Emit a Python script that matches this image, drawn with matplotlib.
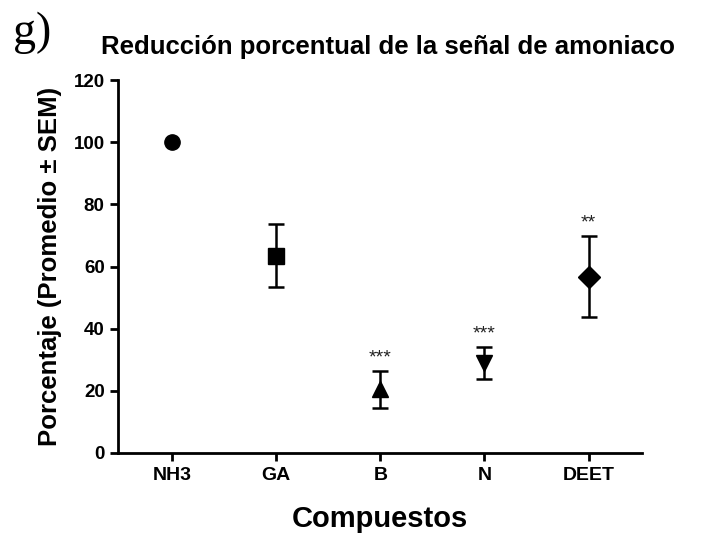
import matplotlib.pyplot as plt

plt.rcParams['font.family'] = ['Liberation Sans', 'DejaVu Sans']

# Data
compuestos = ['NH3', 'GA', 'B', 'N', 'DEET']
promedio = [100, 63.5, 20.5, 29.0, 56.8]
sem = [0, 10.2, 6.0, 5.2, 13.0]
marcadores = ['o', 's', '^', 'v', 'D']
significancia = ['', '', '***', '***', '**']

fig = plt.figure(figsize=(7.06, 5.38), dpi=100)
ax = fig.add_axes([0.167, 0.158, 0.742, 0.693])

for i, (m, e, mk) in enumerate(zip(promedio, sem, marcadores)):
    size = 11.5 if mk == 'D' else 11
    ax.errorbar(i, m, yerr=e if e > 0 else None, fmt=mk, color='black',
                markersize=size, capsize=6, elinewidth=1.8, capthick=1.8)
    if significancia[i]:
        ax.text(i, m + e + 1.5, significancia[i], ha='center', va='bottom',
                fontsize=14, color='#222222')

ax.set_xlim(-0.52, 4.51)
ax.set_ylim(0, 120)
ax.set_yticks(range(0, 121, 20))
ax.set_xticks(range(len(compuestos)))
ax.set_xticklabels(compuestos, fontweight='bold', fontsize=14)
for lbl in ax.get_yticklabels():
    lbl.set_fontweight('bold')
    lbl.set_fontsize(13.5)

for side in ['top', 'right']:
    ax.spines[side].set_visible(False)
for side in ['left', 'bottom']:
    ax.spines[side].set_linewidth(2)
ax.tick_params(direction='out', length=6, width=2)
ax.tick_params(axis='x', pad=4)

ax.set_xlabel('Compuestos', fontsize=21, fontweight='bold', labelpad=15)
ax.set_ylabel('Porcentaje (Promedio ± SEM)', fontsize=18.5, fontweight='bold', labelpad=8)

fig.text(0.55, 0.913, 'Reducción porcentual de la señal de amoniaco',
         ha='center', va='center', fontsize=18.5, fontweight='bold')
fig.text(0.018, 0.94, 'g)', ha='left', va='center', fontsize=33,
         family='Liberation Serif')

fig.savefig('out.png', dpi=100)
